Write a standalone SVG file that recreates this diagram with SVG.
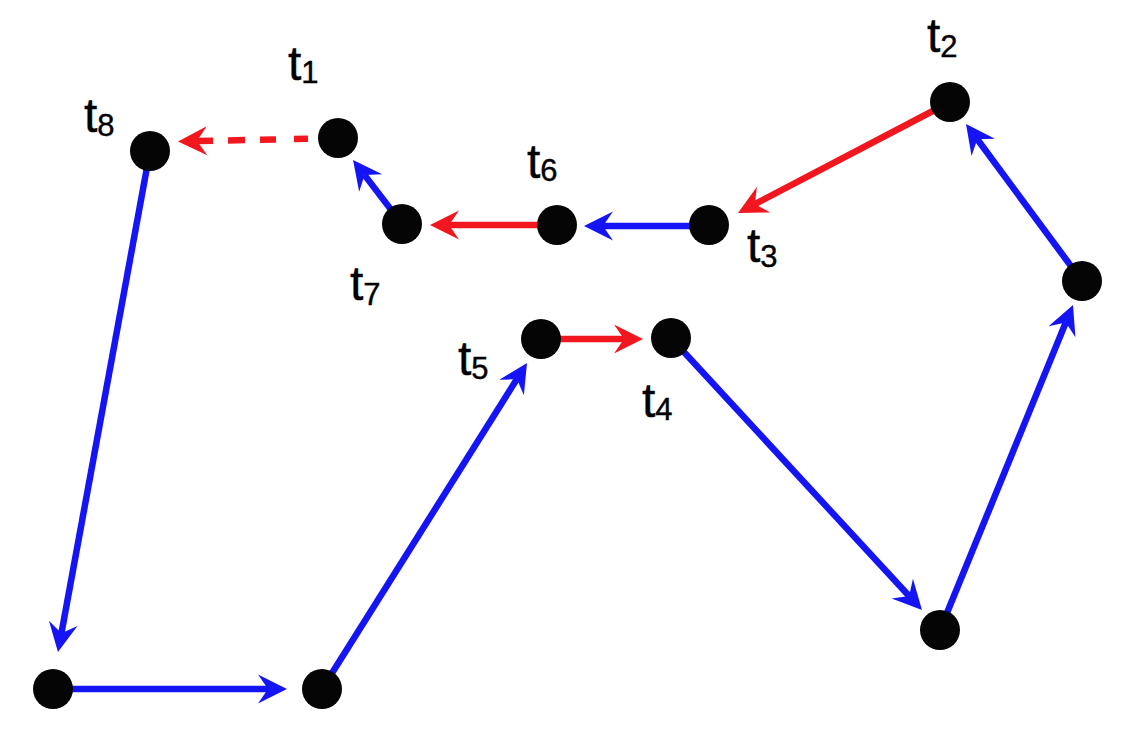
<svg xmlns="http://www.w3.org/2000/svg" width="1147" height="742" viewBox="0 0 1147 742">
<style>
.b{stroke:#1414f5;stroke-width:6.5;fill:none;marker-end:url(#ab)}
.r{stroke:#f2161e;stroke-width:6.5;fill:none;marker-end:url(#ar)}
.d{stroke-dasharray:14 18 16 15 17 15 16 60}
.n{fill:#050505}
.lbl{font-family:"Liberation Sans",Arial,sans-serif;font-size:48px;fill:#000;stroke:#000;stroke-width:0.4}
.sub{font-size:31px}
</style>
<defs>
<marker id="ab" viewBox="-1 -16 31 32" markerWidth="31" markerHeight="32" refX="10" refY="0" orient="auto" markerUnits="userSpaceOnUse">
<path d="M0,-14.5 L29,0 L0,14.5 L10,0 Z" fill="#1414f5"/>
</marker>
<marker id="ar" viewBox="-1 -16 31 32" markerWidth="31" markerHeight="32" refX="10" refY="0" orient="auto" markerUnits="userSpaceOnUse">
<path d="M0,-14.5 L29,0 L0,14.5 L10,0 Z" fill="#f2161e"/>
</marker>
</defs>
<rect width="1147" height="742" fill="#ffffff"/>
<g id="connectors">
<line class="b" x1="150" y1="151" x2="61.4" y2="633.3"/>
<line class="b" x1="53" y1="689" x2="268" y2="689"/>
<line class="b" x1="322" y1="689" x2="516.9" y2="379.1"/>
<line class="r" x1="541" y1="339" x2="624" y2="339"/>
<line class="b" x1="671" y1="338" x2="909.1" y2="596"/>
<line class="b" x1="940" y1="630" x2="1065.8" y2="322.6"/>
<line class="b" x1="1082" y1="281" x2="977.3" y2="139.3"/>
<line class="r" x1="950" y1="102" x2="754.8" y2="204.2"/>
<line class="b" x1="709" y1="226" x2="603" y2="226"/>
<line class="r" x1="557" y1="225" x2="449" y2="225"/>
<line class="b" x1="402" y1="224" x2="364.6" y2="175.1"/>
<line class="r d" x1="308" y1="138.8" x2="197" y2="141"/>
</g>
<g id="n-t8"><circle class="n" cx="150" cy="151" r="20"/><text class="lbl" x="84" y="132">t<tspan class="sub" dy="4">8</tspan></text></g>
<g id="n-t1"><circle class="n" cx="338" cy="138" r="20"/><text class="lbl" x="288" y="80">t<tspan class="sub" dy="3">1</tspan></text></g>
<g id="n-t7"><circle class="n" cx="402" cy="224" r="20"/><text class="lbl" x="350" y="300">t<tspan class="sub" dy="5">7</tspan></text></g>
<g id="n-t6"><circle class="n" cx="557" cy="225" r="20"/><text class="lbl" x="527" y="178">t<tspan class="sub" dy="3">6</tspan></text></g>
<g id="n-t3"><circle class="n" cx="709" cy="225" r="20"/><text class="lbl" x="747" y="262">t<tspan class="sub" dy="5">3</tspan></text></g>
<g id="n-t2"><circle class="n" cx="950" cy="102" r="20"/><text class="lbl" x="927" y="52">t<tspan class="sub" dy="5">2</tspan></text></g>
<g id="n-right"><circle class="n" cx="1082" cy="281" r="20"/></g>
<g id="n-bottom-right"><circle class="n" cx="940" cy="630" r="20"/></g>
<g id="n-t4"><circle class="n" cx="671" cy="338" r="20"/><text class="lbl" x="642" y="417">t<tspan class="sub" dy="3">4</tspan></text></g>
<g id="n-t5"><circle class="n" cx="541" cy="339" r="20"/><text class="lbl" x="458" y="375">t<tspan class="sub" dy="4">5</tspan></text></g>
<g id="n-bottom-mid"><circle class="n" cx="322" cy="689" r="20"/></g>
<g id="n-bottom-left"><circle class="n" cx="53" cy="689" r="20"/></g>
</svg>
